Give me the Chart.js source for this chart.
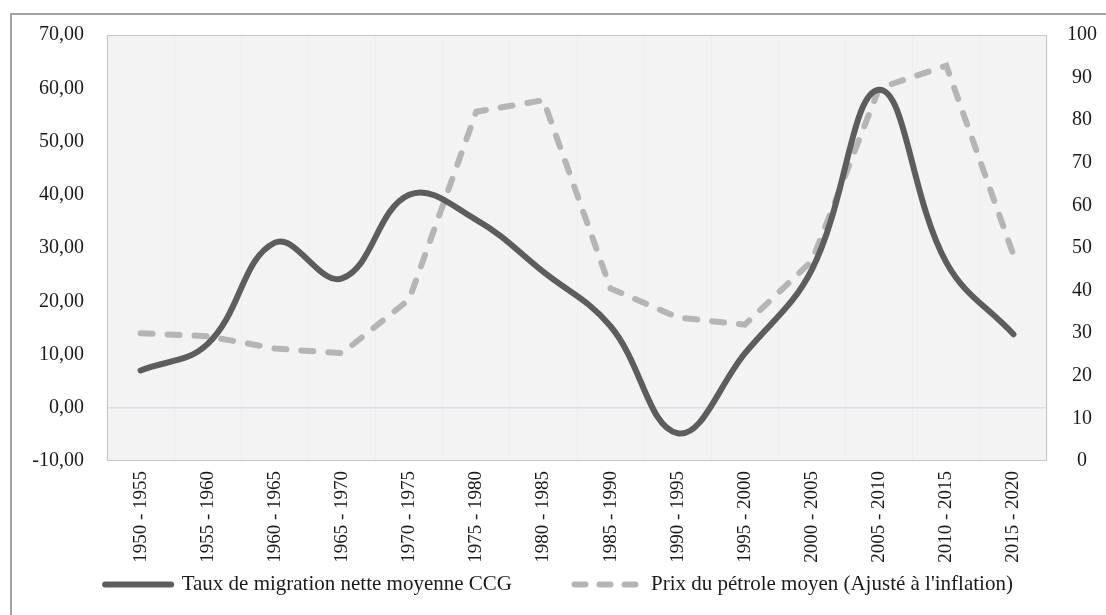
<!DOCTYPE html>
<html>
<head>
<meta charset="utf-8">
<script src="https://cdn.jsdelivr.net/npm/chart.js@4.4.1/dist/chart.umd.min.js"></script>
<style>
  html, body { margin: 0; padding: 0; background: #fff; }
  #wrap { width: 1106px; height: 615px; position: relative; }
</style>
</head>
<body>
<div id="wrap"><canvas id="chart"></canvas></div>
<script>
const periods = ['1950 - 1955', '1955 - 1960', '1960 - 1965', '1965 - 1970', '1970 - 1975',
  '1975 - 1980', '1980 - 1985', '1985 - 1990', '1990 - 1995', '1995 - 2000',
  '2000 - 2005', '2005 - 2010', '2010 - 2015', '2015 - 2020'];
const migration = [7.0, 12.0, 31.0, 24.3, 40.0, 35.3, 25.5, 15.3, -4.8, 10.2, 26.0, 59.7, 27.3, 13.8];
const oilPrice = [30.0, 29.3, 26.4, 25.3, 37.9, 82.0, 84.7, 40.5, 33.7, 32.0, 47.0, 87.5, 92.8, 48.4];

const FONT = "'Liberation Serif', 'DejaVu Serif', serif";
const GAP = '\u00a0'.repeat(10); // extra room between the two legend items

// plot background, plot frame and the outer border
const framePlugin = {
  id: 'frame',
  beforeDraw(chart) {
    const { ctx, chartArea: a } = chart;
    ctx.save();
    ctx.strokeStyle = '#a3a3a3';
    ctx.lineWidth = 2;
    ctx.beginPath();
    ctx.moveTo(11, 615);
    ctx.lineTo(11, 14);
    ctx.lineTo(1106, 14);
    ctx.stroke();
    ctx.fillStyle = '#f3f3f3';
    ctx.fillRect(a.left, a.top, a.right - a.left, a.bottom - a.top);
    ctx.restore();
  },
  afterDatasetsDraw(chart) {
    const { ctx, chartArea: a } = chart;
    ctx.save();
    ctx.strokeStyle = '#c4c4c4';
    ctx.lineWidth = 1;
    ctx.strokeRect(a.left + 0.5, a.top + 0.5, a.right - a.left - 1, a.bottom - a.top - 1);
    ctx.restore();
  }
};

new Chart(document.getElementById('chart'), {
  type: 'line',
  data: {
    labels: periods,
    datasets: [{
      label: 'Taux de migration nette moyenne CCG' + GAP,
      data: migration,
      yAxisID: 'y',
      borderColor: '#5d5d5d',
      backgroundColor: '#5d5d5d',
      borderWidth: 6,
      borderCapStyle: 'round',
      tension: 0.4,
      pointRadius: 0,
      order: 1
    }, {
      label: "Prix du pétrole moyen (Ajusté à l'inflation)",
      data: oilPrice,
      yAxisID: 'y1',
      borderColor: '#b5b5b5',
      backgroundColor: '#b5b5b5',
      borderWidth: 6,
      borderDash: [12, 15],
      borderCapStyle: 'round',
      tension: 0,
      pointRadius: 0,
      order: 2
    }]
  },
  options: {
    responsive: true,
    maintainAspectRatio: false,
    animation: false,
    layout: { padding: { top: 31, left: 12, right: 0, bottom: 10 } },
    plugins: {
      tooltip: { enabled: false },
      legend: {
        position: 'bottom',
        labels: {
          usePointStyle: true,
          pointStyle: 'line',
          pointStyleWidth: 66,
          padding: 10,
          color: '#1a1a1a',
          font: { family: FONT, size: 21 },
          generateLabels(chart) {
            const items = Chart.defaults.plugins.legend.labels.generateLabels(chart);
            items.forEach((it, i) => {
              it.lineWidth = 6;
              it.lineCap = 'round';
              it.lineDash = i === 1 ? [11, 14] : [];
            });
            return items;
          }
        }
      }
    },
    scales: {
      x: {
        offset: true,
        grid: { offset: true, color: 'rgba(0,0,0,0.025)', drawTicks: false },
        border: { display: false },
        ticks: {
          minRotation: 90, maxRotation: 90, padding: 10, autoSkip: false,
          color: '#1a1a1a', font: { family: FONT, size: 19 }
        },
        afterFit(s) { s.height = 615 - 10 - s.chart.legend.height - 461; }
      },
      y: {
        position: 'left',
        min: -10, max: 70,
        border: { display: false },
        grid: {
          drawTicks: false,
          color: c => c.tick && c.tick.value === 0 ? '#d8dde7' : 'rgba(0,0,0,0)',
          lineWidth: 1.5
        },
        ticks: {
          stepSize: 10, padding: 23, color: '#1a1a1a',
          font: { family: FONT, size: 20 },
          callback: v => v.toFixed(2).replace('.', ',')
        },
        afterFit(s) { s.width = 107 - 12; }
      },
      y1: {
        position: 'right',
        min: 0, max: 100,
        border: { display: false },
        grid: { display: false, drawTicks: false },
        ticks: {
          stepSize: 10, padding: 20, crossAlign: 'center', color: '#1a1a1a',
          font: { family: FONT, size: 20 }
        },
        afterFit(s) { s.width = 1106 - 1047; }
      }
    }
  },
  plugins: [framePlugin]
});
</script>
</body>
</html>
